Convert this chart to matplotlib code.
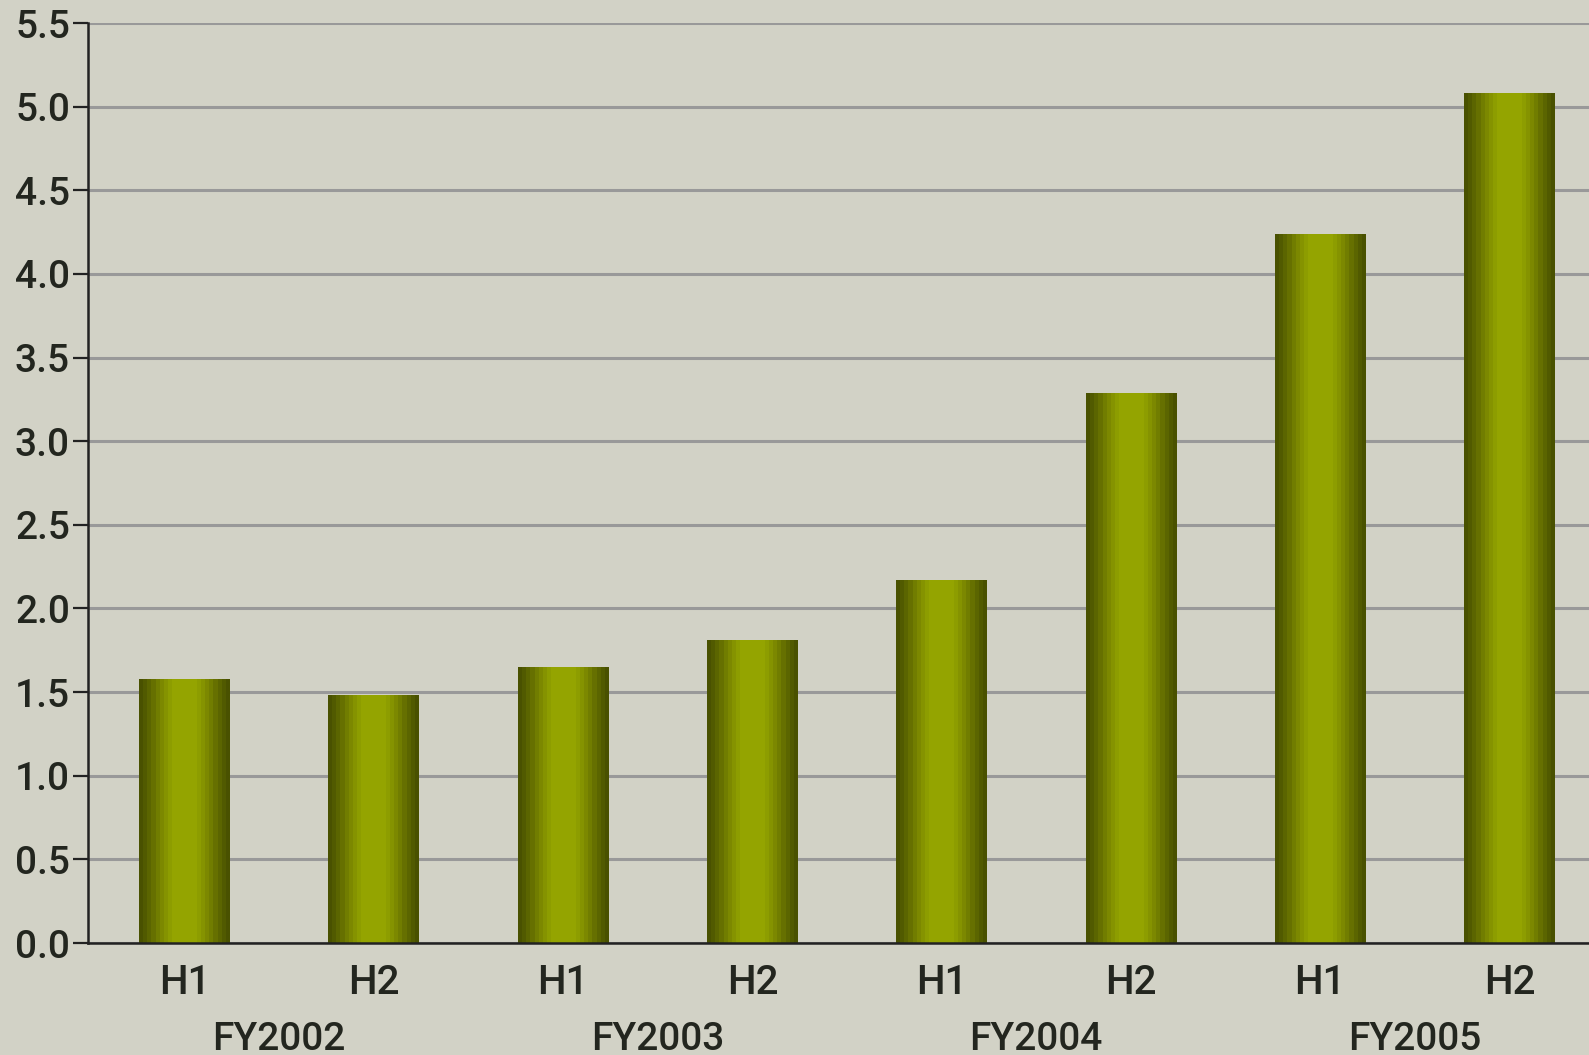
import matplotlib
matplotlib.use('Agg')
import matplotlib.pyplot as plt
import numpy as np
from matplotlib.colors import LinearSegmentedColormap

# data
years = ['FY2002', 'FY2003', 'FY2004', 'FY2005']
halves = ['H1', 'H2', 'H1', 'H2', 'H1', 'H2', 'H1', 'H2']
values = [1.58, 1.48, 1.65, 1.81, 2.17, 3.29, 4.24, 5.08]
y_ticks = [0.0, 0.5, 1.0, 1.5, 2.0, 2.5, 3.0, 3.5, 4.0, 4.5, 5.0, 5.5]

bg = '#d2d2c6'
text_col = '#23261f'
plt.rcParams['font.family'] = ['Roboto', 'DejaVu Sans']
plt.rcParams['font.weight'] = 'medium'

fig = plt.figure(figsize=(15.89, 10.55), dpi=100, facecolor=bg)
ax = fig.add_axes([88 / 1589, 1 - 943 / 1055, 1 - 88 / 1589, (943 - 23) / 1055])
ax.set_facecolor(bg)

x = np.arange(len(values))
width = 0.48
bars = ax.bar(x, values, width, color='none', edgecolor='none', zorder=3)

# cylinder-like horizontal gradient, banded like the original
bar_cmap = LinearSegmentedColormap.from_list('olive', ['#485000', '#6f7a00', '#94a400'])
bands = 22
t = (np.arange(bands) + 0.5) / bands
shade = np.clip(np.sin(np.pi * t) ** 1.4 * 1.1, 0, 1)
grad = shade.reshape(1, -1)
for rect in bars:
    x0 = rect.get_x()
    im = ax.imshow(grad, cmap=bar_cmap, vmin=0, vmax=1, aspect='auto',
                   extent=(x0, x0 + rect.get_width(), -0.02, rect.get_height()),
                   interpolation='nearest', zorder=3)
    im.set_clip_path(rect)

ax.set_xlim(-0.51, 7.42)
ax.set_ylim(0, 5.5)
ax.set_yticks(y_ticks)
ax.set_yticklabels([f'{v:.1f}' for v in y_ticks])
ax.yaxis.grid(True, color='#999999', linewidth=2.2, zorder=1)
ax.set_axisbelow(True)

for s in ['top', 'right']:
    ax.spines[s].set_visible(False)
for s in ['left', 'bottom']:
    ax.spines[s].set_color('#222222')
    ax.spines[s].set_linewidth(1.8)
    ax.spines[s].set_zorder(4)

ax.tick_params(axis='y', length=11, width=1.6, color='#222222', labelsize=28,
               labelcolor=text_col, pad=2)
ax.set_xticks(x)
ax.set_xticklabels(halves)
ax.tick_params(axis='x', length=0, labelsize=29, labelcolor=text_col, pad=15)

# year labels centred under each pair of halves
for i, year in enumerate(years):
    ax.annotate(year, xy=(2 * i + 0.5, 0), xycoords=('data', 'axes fraction'),
                xytext=(0, -56), textcoords='offset points',
                ha='center', va='top', fontsize=28, color=text_col)

fig.savefig('out.png', facecolor=bg)
